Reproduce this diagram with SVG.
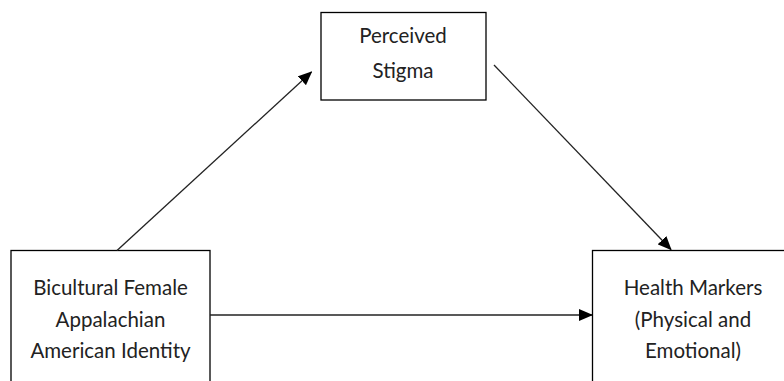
<svg xmlns="http://www.w3.org/2000/svg" width="784" height="381" viewBox="0 0 784 381">
<style>
.box{fill:#fff;stroke:#000;stroke-width:1.3}
.lbl{font-family:Lato,"Open Sans",sans-serif;font-size:20.5px;fill:#222;text-anchor:middle}
.conn{stroke:#222;stroke-width:1.3;fill:none;marker-end:url(#ah)}
</style>
<defs>
<marker id="ah" markerUnits="userSpaceOnUse" markerWidth="14" markerHeight="12" refX="13" refY="6" orient="auto">
<path d="M0,0 L14,6 L0,12 Z" fill="#000"/>
</marker>
</defs>
<rect width="784" height="381" fill="#fff"/>
<g id="stigma">
<rect class="box" x="321" y="12.5" width="165" height="87.5"/>
<text class="lbl" x="403" y="43">Perceived</text>
<text class="lbl" x="403" y="78">Stigma</text>
</g>
<g id="identity">
<rect class="box" x="11" y="250.5" width="199" height="140"/>
<text class="lbl" x="110.5" y="295">Bicultural Female</text>
<text class="lbl" x="110.5" y="326.5">Appalachian</text>
<text class="lbl" x="110.5" y="358">American Identity</text>
</g>
<g id="health">
<rect class="box" x="592.5" y="250.5" width="210" height="140"/>
<text class="lbl" x="693" y="295">Health Markers</text>
<text class="lbl" x="693" y="326.5">(Physical and</text>
<text class="lbl" x="693" y="358">Emotional)</text>
</g>
<g id="connectors">
<line class="conn" x1="117" y1="250.5" x2="311.5" y2="72"/>
<line class="conn" x1="494" y1="65" x2="671" y2="249.5"/>
<line class="conn" x1="210" y1="315" x2="592" y2="315"/>
</g>
</svg>
